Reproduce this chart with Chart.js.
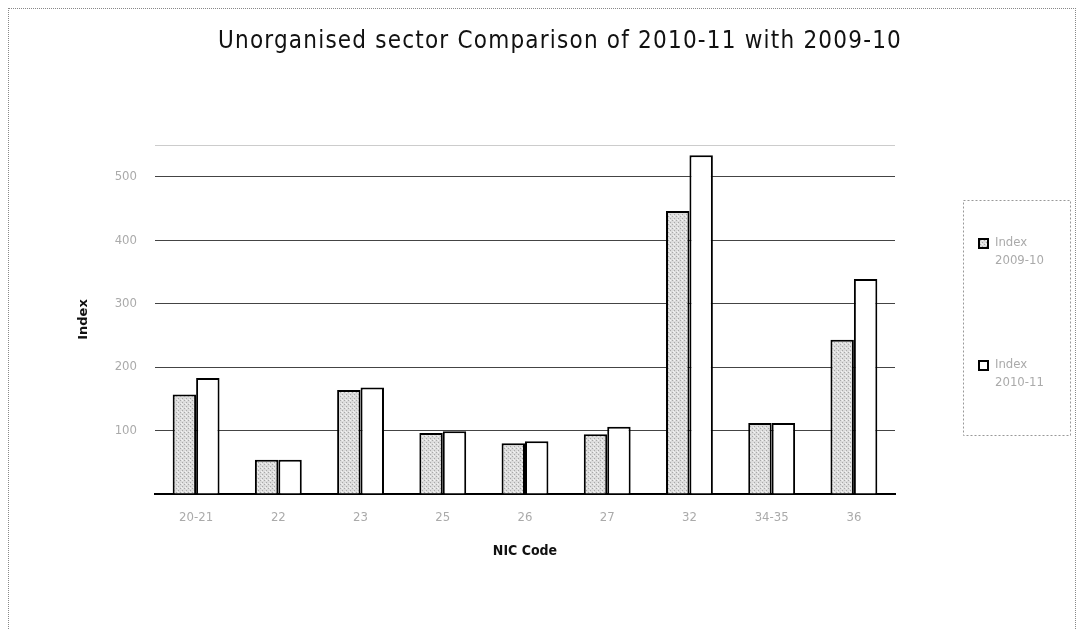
<!DOCTYPE html>
<html>
<head>
<meta charset="utf-8">
<script src="https://cdn.jsdelivr.net/npm/chart.js@4/dist/chart.umd.min.js"></script>
<style>
  html, body { margin: 0; padding: 0; background: #fff; }
  #wrap { position: relative; width: 1082px; height: 630px; }
  #frame { position: absolute; left: 8px; top: 8px; width: 1066px; height: 640px;
           border-left: 1px dotted #888; border-top: 1px dotted #888; border-right: 1px dotted #888; }
</style>
</head>
<body>
<div id="wrap">
  <div id="frame"></div>
  <canvas id="canvas" width="1082" height="630"></canvas>
</div>
<script>
// values
var nicCodes = ["20-21", "22", "23", "25", "26", "27", "32", "34-35", "36"];
var index0910 = [157, 54, 164, 96, 80, 94, 446, 112, 243];
var index1011 = [183, 54, 168, 99, 83, 106, 534, 112, 339];
var seriesNames = [["Index", "2009-10"], ["Index", "2010-11"]];
var chartTitle = 'Unorganised sector Comparison of 2010-11 with 2009-10';

// stippled grey fill like the scan
var pc = document.createElement('canvas');
pc.width = 4; pc.height = 4;
var pctx = pc.getContext('2d');
pctx.fillStyle = '#dcdcdc';
pctx.fillRect(0, 0, 4, 4);
pctx.fillStyle = '#a8a8a8';
pctx.fillRect(0, 0, 1, 1);
pctx.fillRect(2, 2, 1, 1);
pctx.fillStyle = '#f2f2f2';
pctx.fillRect(2, 0, 1, 1);
pctx.fillRect(1, 3, 1, 1);

const ctx = document.getElementById('canvas').getContext('2d');
var stipple = ctx.createPattern(pc, 'repeat');

var fills = [stipple, '#ffffff'];

// title + boxed legend, placed like in the original
var extras = {
    id: 'extras',
    afterDraw: function(chart) {
        var c = chart.ctx;
        c.save();
        c.font = '24px "DejaVu Sans Condensed", sans-serif';
        c.letterSpacing = '1.2px';
        c.fillStyle = '#111';
        c.textAlign = 'center';
        c.textBaseline = 'middle';
        c.fillText(chartTitle, 560, 42);
        c.letterSpacing = '0px';

        var x0 = chart.chartArea.right + 68, y0 = 200, w = 107, h = 235;
        c.textAlign = 'left';
        c.strokeStyle = '#999';
        c.lineWidth = 1;
        c.setLineDash([2, 2]);
        c.strokeRect(x0 + 0.5, y0 + 0.5, w, h);
        c.setLineDash([]);
        c.font = '13px "DejaVu Sans Condensed", sans-serif';
        for (var i = 0; i < seriesNames.length; i++) {
            var my = y0 + 43 + i * 122;
            c.fillStyle = fills[i];
            c.fillRect(x0 + 16, my - 4, 9, 9);
            c.strokeStyle = '#000';
            c.lineWidth = 2;
            c.strokeRect(x0 + 16, my - 4, 9, 9);
            c.fillStyle = '#aaa';
            c.fillText(seriesNames[i][0], x0 + 32, my);
            c.fillText(seriesNames[i][1], x0 + 32, my + 18);
        }
        c.restore();
    }
};

new Chart(ctx, {
    type: 'bar',
    data: {
        labels: nicCodes,
        datasets: [{
            label: seriesNames[0].join(' '),
            data: index0910,
            backgroundColor: stipple,
            borderColor: '#000',
            borderWidth: 2,
            categoryPercentage: 0.57,
            barPercentage: 1.0
        },
        {
            label: seriesNames[1].join(' '),
            data: index1011,
            backgroundColor: '#fff',
            borderColor: '#000',
            borderWidth: 2,
            categoryPercentage: 0.57,
            barPercentage: 1.0
        }]
    },
    options: {
        responsive: false,
        animation: false,
        layout: { padding: { left: 72, right: 187, top: 145, bottom: 66 } },
        plugins: {
            legend: { display: false },
            tooltip: { enabled: false },
            title: { display: false }
        },
        scales: {
            x: {
                grid: { display: false },
                border: { color: '#000', width: 2 },
                ticks: { color: '#aaa', font: { family: '"DejaVu Sans Condensed", sans-serif', size: 13 }, padding: 8 },
                title: {
                    display: true, text: 'NIC Code', color: '#111',
                    font: { family: '"DejaVu Sans Condensed", sans-serif', size: 14, weight: 'bold' },
                    padding: { top: 8 }
                },
                afterFit: function(s) { s.height = 70; }
            },
            y: {
                min: 0,
                max: 550,
                afterBuildTicks: function(s) {
                    s.ticks = [0, 100, 200, 300, 400, 500, 550].map(function(v) { return { value: v }; });
                },
                grid: {
                    color: function(c) { return c.tick.value === 550 ? '#ccc' : '#444'; },
                    lineWidth: 1,
                    drawTicks: false
                },
                border: { display: false },
                ticks: {
                    color: '#aaa',
                    font: { family: '"DejaVu Sans Condensed", sans-serif', size: 13 },
                    padding: 18,
                    callback: function(v) { return (v === 0 || v === 550) ? '' : v; }
                },
                title: {
                    display: true, text: 'Index', color: '#111',
                    font: { family: '"DejaVu Sans", sans-serif', size: 13, weight: 'bold' },
                    padding: { bottom: 6 }
                },
                afterFit: function(s) { s.width = 83; }
            }
        }
    },
    plugins: [extras]
});
</script>
</body>
</html>
